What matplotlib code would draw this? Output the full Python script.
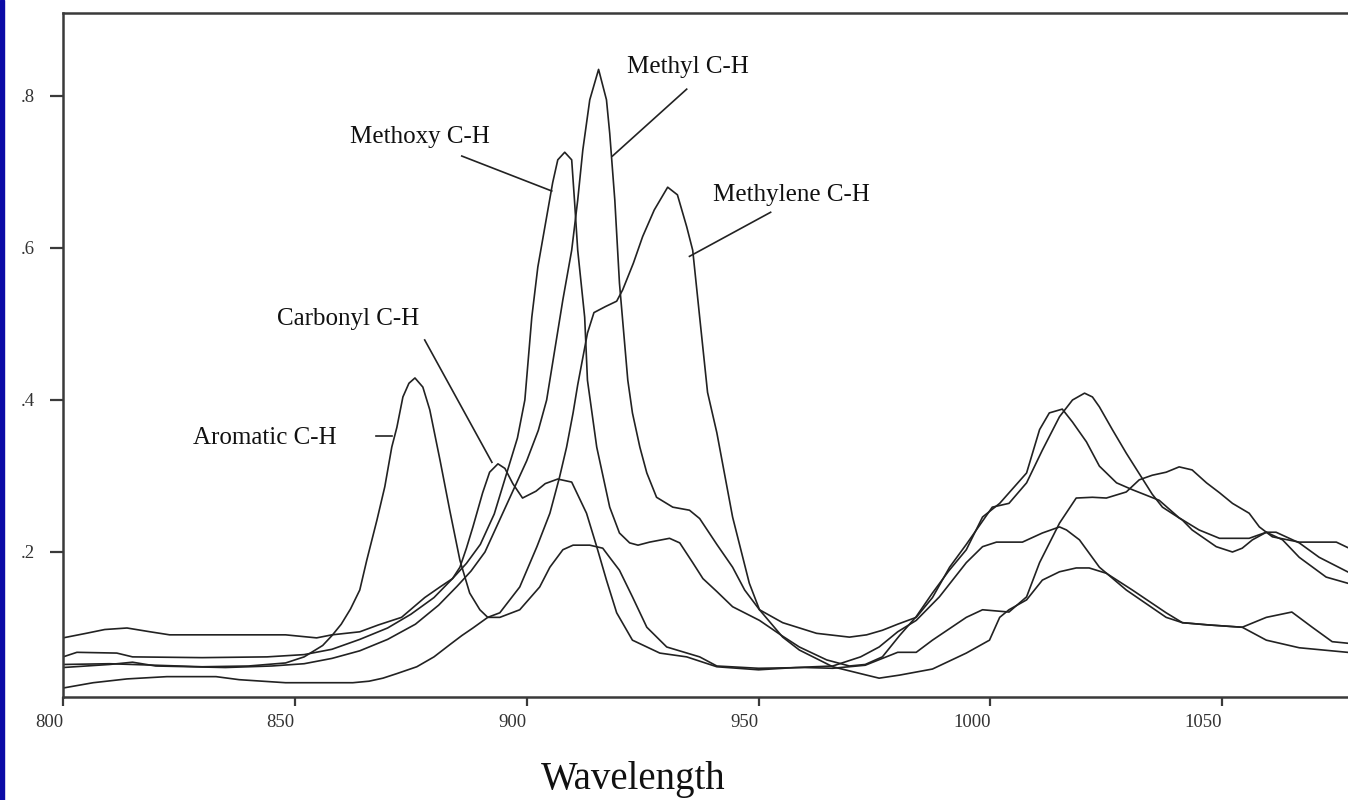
"""NIR absorbance spectra of lignin C-H groups (5 traces, black, annotated)."""

import matplotlib

matplotlib.use("Agg")
import matplotlib.pyplot as plt

W, H = 1348, 800

# ---------------------------------------------------------------- data ---
aromatic_x = [800, 810, 820, 830, 840, 848, 852, 856, 858, 860, 862, 864, 865.5, 867.7,
              869.4, 870.9, 872, 873.3, 874.6, 875.9, 877.6, 879.1, 881.3, 883.4, 885.6,
              887.7, 889.9, 891.6, 894.2, 898.5, 902.8, 905, 907.8, 910, 913.6, 916.4, 918,
              920, 922.8, 925.9, 930.2, 937.3, 941, 950, 960, 966, 973, 980, 984, 987.5,
              994.8, 998.3, 1004, 1007.8, 1010.6, 1014.9, 1018.5, 1022, 1025, 1029.3,
              1032.1, 1034.9, 1037.9, 1040.7, 1043.5, 1046.6, 1049.4, 1052.2, 1055.8, 1058,
              1060.8, 1066.6, 1074.6, 1077]
aromatic_y = [0.052, 0.053, 0.051, 0.049, 0.050, 0.054, 0.062, 0.077, 0.090, 0.105, 0.125,
              0.150, 0.189, 0.242, 0.286, 0.338, 0.364, 0.404, 0.422, 0.429, 0.417, 0.387,
              0.321, 0.255, 0.189, 0.146, 0.124, 0.114, 0.114, 0.124, 0.154, 0.180, 0.203,
              0.209, 0.209, 0.205, 0.192, 0.176, 0.141, 0.101, 0.075, 0.062, 0.050, 0.047,
              0.048, 0.047, 0.051, 0.068, 0.068, 0.084, 0.114, 0.124, 0.121, 0.141, 0.186,
              0.238, 0.271, 0.272, 0.271, 0.279, 0.295, 0.301, 0.305, 0.312, 0.308, 0.291,
              0.278, 0.264, 0.251, 0.233, 0.220, 0.213, 0.213, 0.206]

carbonyl_x = [800, 805, 809, 813.8, 818.8, 823, 835, 848, 854.7, 858, 864, 868, 873, 878,
              881.3, 884, 885.6, 887, 888.4, 890.5, 892, 893.8, 895.3, 897, 899.1, 902, 904,
              906.7, 909.7, 912.9, 915.1, 917.2, 919.4, 922.8, 928.7, 934.5, 941, 950, 958,
              966, 972, 976, 980, 984, 989, 994.8, 998.3, 1001.3, 1006.9, 1011.2, 1014.9,
              1016.4, 1019.2, 1023.5, 1029.3, 1033.6, 1037.9, 1041.4, 1047.2, 1054.3,
              1059.5, 1065, 1069.4, 1073.7, 1077]
carbonyl_y = [0.087, 0.093, 0.098, 0.100, 0.095, 0.091, 0.091, 0.091, 0.087, 0.091, 0.095,
              0.104, 0.114, 0.140, 0.154, 0.165, 0.180, 0.205, 0.233, 0.278, 0.305, 0.316,
              0.310, 0.290, 0.271, 0.280, 0.290, 0.296, 0.292, 0.251, 0.207, 0.163, 0.120,
              0.084, 0.067, 0.062, 0.049, 0.045, 0.048, 0.050, 0.062, 0.075, 0.095, 0.110,
              0.141, 0.186, 0.207, 0.213, 0.213, 0.225, 0.233, 0.229, 0.216, 0.180, 0.150,
              0.132, 0.114, 0.107, 0.104, 0.101, 0.114, 0.121, 0.101, 0.082, 0.080]

methoxy_x = [800, 803, 811.6, 815, 830, 844, 852, 858, 864, 870, 875, 880, 884, 887, 890,
             893, 896, 898, 899.6, 901.1, 902.4, 904.3, 905.6, 906.7, 908.2, 909.7, 910.3,
             911, 912.5, 913.1, 915.1, 917.9, 920, 922.2, 924, 926.5, 930.8, 933, 935.8, 938,
             941, 944.4, 950.2, 955, 958.8, 964.7, 969.6, 973, 976.7, 980.4, 984, 987.5, 991,
             994.8, 998.3, 1002, 1007.8, 1010.6, 1012.7, 1015.5, 1017.7, 1020.7, 1023.5,
             1027.2, 1030.6, 1036.4, 1040.7, 1045, 1049.4, 1055.8, 1059.5, 1061.6, 1066.6,
             1070.9, 1077]
methoxy_y = [0.062, 0.068, 0.067, 0.062, 0.061, 0.062, 0.065, 0.072, 0.085, 0.100, 0.118,
             0.140, 0.165, 0.185, 0.210, 0.250, 0.310, 0.350, 0.400, 0.509, 0.575, 0.641,
             0.686, 0.716, 0.726, 0.716, 0.663, 0.597, 0.509, 0.426, 0.338, 0.259, 0.225,
             0.212, 0.209, 0.213, 0.218, 0.212, 0.186, 0.165, 0.148, 0.128, 0.110, 0.090,
             0.075, 0.058, 0.050, 0.052, 0.062, 0.090, 0.115, 0.146, 0.175, 0.203, 0.246,
             0.264, 0.304, 0.361, 0.383, 0.388, 0.371, 0.345, 0.313, 0.291, 0.282, 0.268,
             0.245, 0.229, 0.218, 0.218, 0.226, 0.226, 0.212, 0.193, 0.174]

methyl_x = [800, 810, 815, 820, 835, 845, 852, 858, 864, 870, 876, 881, 885, 888, 891, 894,
            897, 900, 902.5, 904.3, 907.8, 909.7, 911, 912.1, 913.6, 915.5, 917.2, 917.9, 919,
            920, 921.8, 922.8, 924.4, 925.9, 928, 931.5, 935.1, 937.3, 941, 944.4, 947, 950.2,
            955.2, 962.5, 969.6, 973.3, 976.7, 980, 984, 987.5, 991.2, 994.8, 1000.4, 1004,
            1007.8, 1011.2, 1014.9, 1017.7, 1020.3, 1022, 1023.5, 1026.3, 1029.3, 1032.1,
            1034.9, 1037.1, 1041.4, 1043.5, 1048.7, 1052.2, 1054.3, 1056.5, 1059.5, 1063,
            1066.6, 1072.4, 1077]
methyl_y = [0.048, 0.052, 0.055, 0.050, 0.048, 0.050, 0.053, 0.060, 0.070, 0.085, 0.105,
            0.130, 0.155, 0.175, 0.200, 0.240, 0.280, 0.320, 0.360, 0.400, 0.532, 0.597,
            0.663, 0.729, 0.795, 0.835, 0.795, 0.751, 0.663, 0.554, 0.426, 0.383, 0.338,
            0.304, 0.272, 0.259, 0.255, 0.244, 0.210, 0.180, 0.150, 0.124, 0.107, 0.093,
            0.088, 0.091, 0.097, 0.105, 0.114, 0.140, 0.180, 0.210, 0.259, 0.264, 0.291,
            0.334, 0.378, 0.400, 0.409, 0.404, 0.391, 0.361, 0.330, 0.303, 0.276, 0.259,
            0.242, 0.229, 0.207, 0.200, 0.205, 0.216, 0.226, 0.216, 0.193, 0.167, 0.159]

methylene_x = [800, 806.5, 813.8, 822.4, 833, 838, 848, 862.5, 866, 869, 872, 876.3, 880,
               883.4, 886, 888.4, 891.6, 894.2, 898.5, 902.2, 905, 907.1, 908.6, 910, 911,
               913.1, 914.5, 917, 919.4, 920.7, 923, 925, 927.5, 930.4, 932.5, 934.5, 935.8,
               937.3, 939, 941, 944.4, 948, 950.2, 955.2, 958.8, 966, 973.3, 976, 980.4,
               987.5, 994.8, 999.8, 1002, 1004, 1007.8, 1011.2, 1014.9, 1018.5, 1021.3, 1025,
               1030.6, 1037.9, 1041.4, 1047, 1054.3, 1059.5, 1066.6, 1077]
methylene_y = [0.021, 0.028, 0.033, 0.036, 0.036, 0.032, 0.028, 0.028, 0.030, 0.034, 0.040,
               0.049, 0.062, 0.078, 0.090, 0.100, 0.114, 0.120, 0.154, 0.207, 0.251, 0.299,
               0.338, 0.383, 0.420, 0.488, 0.515, 0.523, 0.530, 0.545, 0.580, 0.615, 0.650,
               0.680, 0.670, 0.628, 0.597, 0.509, 0.410, 0.357, 0.246, 0.159, 0.124, 0.088,
               0.071, 0.049, 0.038, 0.034, 0.038, 0.046, 0.067, 0.084, 0.114, 0.124, 0.137,
               0.163, 0.174, 0.179, 0.179, 0.172, 0.150, 0.120, 0.107, 0.104, 0.101, 0.084,
               0.074, 0.068]

SERIES = [(aromatic_x, aromatic_y), (carbonyl_x, carbonyl_y), (methoxy_x, methoxy_y),
          (methyl_x, methyl_y), (methylene_x, methylene_y)]

x_ticks = [800, 850, 900, 950, 1000, 1050]
y_ticks = [0.2, 0.4, 0.6, 0.8]
y_tick_labels = [".2", ".4", ".6", ".8"]

# label text, text anchor (data), leader line start -> end (data)
LABELS = [
    ("Methyl C-H", (921.6, 0.838), (934.5, 0.809), (918.5, 0.721)),
    ("Methoxy C-H", (861.8, 0.746), (886.0, 0.721), (905.4, 0.675)),
    ("Methylene C-H", (940.1, 0.670), (952.6, 0.647), (935.1, 0.589)),
    ("Carbonyl C-H", (846.1, 0.507), (878.0, 0.479), (892.5, 0.318)),
    ("Aromatic C-H", (828.0, 0.350), (867.6, 0.353), (870.9, 0.353)),
]

# ---------------------------------------------------------------- plot ---
plt.rcParams["font.family"] = ["Liberation Serif", "DejaVu Serif"]

fig = plt.figure(figsize=(W / 100, H / 100), dpi=100)
fig.patches.append(plt.Rectangle((0, 0), 3.5 / W, 1, transform=fig.transFigure,
                                 color="#0b0ba6", zorder=10))
ax = fig.add_axes([63 / W, 1 - 697 / H, 1 - 63 / W, (697 - 13) / H])

for xs, ys in SERIES:
    ax.plot(xs, ys, color="#222", lw=1.2, solid_joinstyle="round")

for text, (tx, ty), p0, p1 in LABELS:
    ax.text(tx, ty, text, fontsize=18, ha="left", va="center", color="#111")
    ax.plot([p0[0], p1[0]], [p0[1], p1[1]], color="#222", lw=1.2)

ax.set_xlim(800, 800 + (W - 63.3) / 4.636)
ax.set_ylim((704 - 697) / 760, (704 - 13) / 760)

for side in ("right", "bottom", "left", "top"):
    ax.spines[side].set_color("#3a3a3a")
    ax.spines[side].set_linewidth(1.8)
ax.spines["right"].set_visible(False)

ax.set_xticks(x_ticks)
ax.set_xticklabels([str(v) for v in x_ticks], ha="right")
ax.set_yticks(y_ticks)
ax.set_yticklabels(y_tick_labels)
ax.tick_params(axis="x", length=6.5, width=1.6, pad=6, labelsize=13.5,
               color="#3a3a3a", labelcolor="#333")
ax.tick_params(axis="y", length=9.5, width=1.6, pad=10.5, labelsize=13.5,
               color="#3a3a3a", labelcolor="#333")

fig.text(633 / W, 1 - 789 / H, "Wavelength", fontsize=28, ha="center", va="baseline",
         color="#111")

fig.savefig("out.png", dpi=100)
